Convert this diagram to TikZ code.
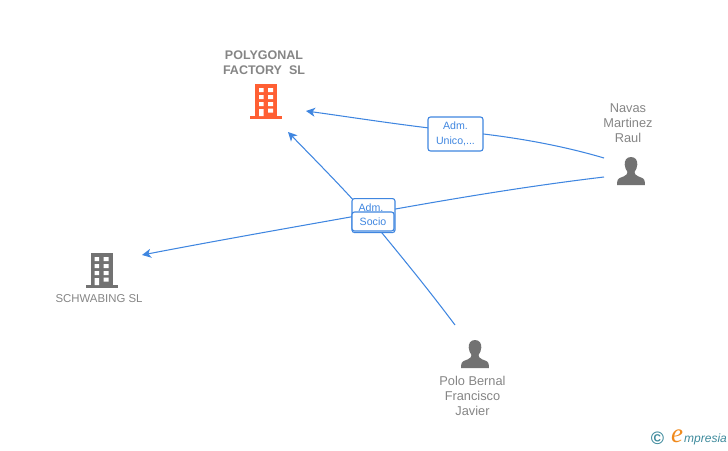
\documentclass[tikz,border=0pt]{standalone}
\usepackage{fontspec}
\setmainfont{Liberation Sans}
\newfontfamily\logoserif{Liberation Serif}
\usetikzlibrary{arrows.meta}
\definecolor{linkblue}{HTML}{3F86E0}
\definecolor{labelgrey}{HTML}{858585}
\definecolor{icongrey}{HTML}{727272}
\definecolor{iconorange}{HTML}{FF5F33}
\definecolor{logoteal}{HTML}{3E8A9C}
\definecolor{logoorange}{HTML}{F08A1D}
\tikzset{
  x=1pt,y=-1pt,
  link/.style={draw=linkblue,line width=1.05pt,-{Stealth[length=9pt,width=9pt,inset=2.5pt]}},
  rolebox/.style={draw=linkblue,line width=1.1pt,fill=white,rounded corners=2.5pt,inner sep=0pt,
    text=linkblue,font=\fontsize{10.6}{14.5}\selectfont,align=center},
  entity/.style={text=labelgrey,font=\fontsize{12.8}{15}\selectfont,align=center,inner sep=0pt},
  company/.style={text=labelgrey,font=\fontsize{12.5}{15}\selectfont\bfseries,align=center,inner sep=0pt},
  building/.pic={
    \fill[pic actions] (-11,-17) rectangle (11,15);
    \fill[pic actions] (-16,14.5) rectangle (16,17.5);
    \fill[white] (-7,-13) rectangle (-2.5,-9) (2,-13) rectangle (7,-9)
                 (-7,-6) rectangle (-2.5,-2) (2,-6) rectangle (7,-2)
                 (-7,1) rectangle (-2.5,5) (2,1) rectangle (7,5)
                 (-7,8) rectangle (-2.5,15) (2,7.5) rectangle (7,11.5);
  },
  person/.pic={
    \fill[icongrey] (0,0) .. controls (-4.5,0) and (-6.5,3.5) .. (-6.3,7.5)
      .. controls (-6.2,10.5) and (-5,13) .. (-3.5,15)
      .. controls (-3.5,17) and (-4.5,18) .. (-7.5,19.5)
      .. controls (-11.5,21) and (-13.5,21.5) .. (-13.8,25)
      -- (-13.8,28) -- (13.8,28) -- (13.8,25)
      .. controls (13.5,21.5) and (11.5,21) .. (7.5,19.5)
      .. controls (4.5,18) and (3.5,17) .. (3.5,15)
      .. controls (5,13) and (6.2,10.5) .. (6.3,7.5)
      .. controls (6.5,3.5) and (4.5,0) .. (0,0) -- cycle;
  }
}
\begin{document}
\begin{tikzpicture}
\useasboundingbox (0,0) rectangle (728,450);
% labels
\node[company] (polygonal) at (264,62.5) {POLYGONAL\\FACTORY\ \ SL};
\node[entity,font=\fontsize{11.4}{15}\selectfont] (schwabing) at (99,298.5) {SCHWABING SL};
\node[entity] (navas) at (628,123) {Navas\\Martinez\\Raul};
\node[entity] (polo) at (472.5,396) {Polo Bernal\\Francisco\\Javier};
% icons
\pic[fill=iconorange] at (266,101) {building};
\pic[fill=icongrey] at (101.5,270) {building};
\pic at (631,157) {person};
\pic at (475,340) {person};
% connector ends
\coordinate (polygonalA) at (306,111);
\coordinate (polygonalB) at (288,132);
\coordinate (schwabingIn) at (142,255);
\coordinate (navasA) at (604,158);
\coordinate (navasB) at (604,177);
\coordinate (poloOut) at (455,325);
% connectors
\draw[link] (navasA) .. controls (560,145) and (510,136) .. (455,131) .. controls (400,125) and (350,117) .. (polygonalA);
\draw[link] (navasB) .. controls (520,187) and (440,201) .. (373,213) .. controls (300,226) and (220,240) .. (schwabingIn);
\draw[link] (poloOut) .. controls (425,285) and (400,255) .. (373,222) .. controls (345,190) and (320,165) .. (polygonalB);
% role boxes
\node[rolebox,minimum width=55pt,minimum height=34pt] (unico) at (455.5,134) {Adm.\\Unico,...};
\node[rolebox,minimum width=43pt,minimum height=34pt,anchor=north] (adm) at (373.5,198) {};
\node[text=linkblue,font=\fontsize{10.6}{12}\selectfont,inner sep=0pt] (admtext) at (371,208) {Adm.};
\node[rolebox,minimum width=42pt,minimum height=19pt] (socio) at (373,221.5) {Socio};
% logo
\node[text=logoteal,inner sep=0pt,font=\fontsize{18}{18}\selectfont\bfseries] (copyr) at (657.5,438.5) {©};
\node[text=logoorange,inner sep=0pt,font=\logoserif\fontsize{27}{27}\selectfont\itshape] (logoe) at (677,436) {e};
\node[text=logoteal,inner sep=0pt,anchor=west,font=\fontsize{12}{14}\selectfont\itshape] (logotext) at (684,439.5) {mpresia};
\end{tikzpicture}
\end{document}
